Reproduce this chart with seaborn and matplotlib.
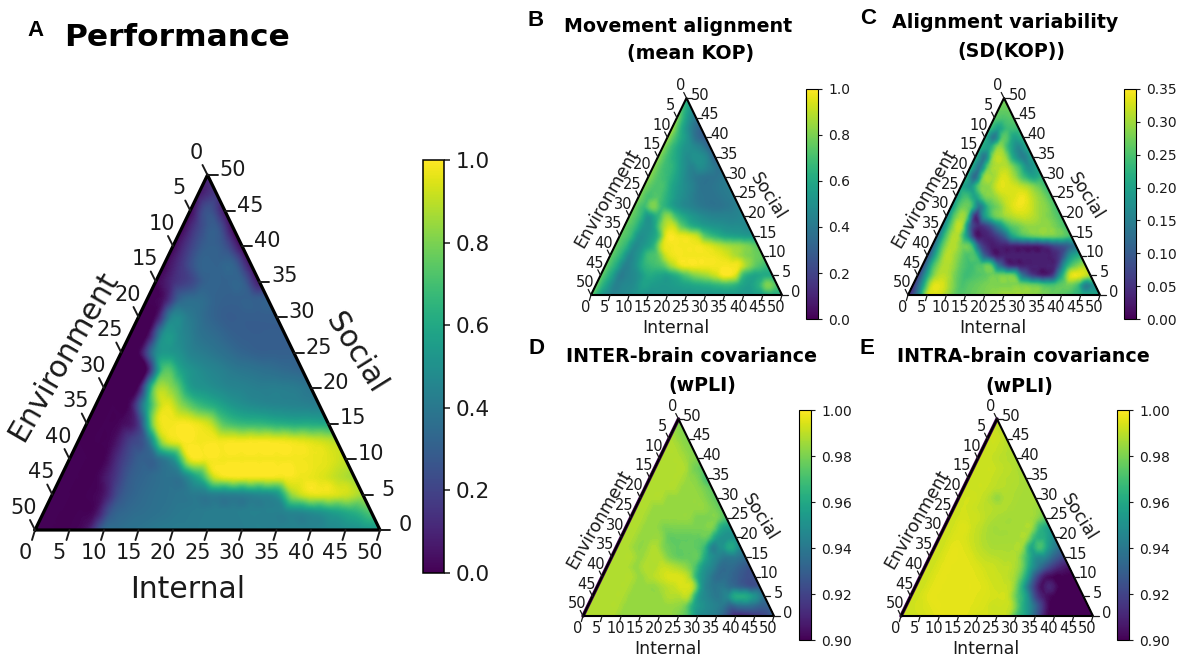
import numpy as np
import matplotlib
matplotlib.use("Agg")
import matplotlib.pyplot as plt
import matplotlib.tri as mtri
from matplotlib.cm import ScalarMappable
from matplotlib.colors import Normalize
import seaborn as sns

sns.set_style("ticks", {"text.color": "0.1", "xtick.color": "0.1", "ytick.color": "0.1",
                        "axes.edgecolor": "black", "font.family": ["DejaVu Sans"]})

W, H = 1181, 661
STEP = 2.5
tick_values = list(range(0, 51, 5))

# values: rows go from social=0 upward, each row from internal=0 rightward
performance = [
    [0, 0, 0, .05, .32, .36, .38, .40, .41, .41, .42, .42, .42, .43, .43, .44, .44, .46, .48, .50, .52],
    [0, 0, 0, .03, .28, .34, .36, .38, .40, .41, .42, .42, .43, .43, .44, .46, .50, .56, .62, .72],
    [0, 0, 0, .05, .26, .33, .36, .38, .40, .41, .42, .43, .46, .50, .85, .95, .95, .92, .86],
    [0, 0, 0, .12, .28, .33, .37, .40, .60, .93, .98, .98, .98, .98, .97, .95, .90, .85],
    [0, 0, 0, .16, .29, .33, .48, .95, .98, .98, .98, .98, .98, .98, .97, .95, .90],
    [0, 0, .02, .18, .32, .88, .98, .98, .98, .98, .98, .98, .97, .95, .92, .88],
    [0, 0, .02, .15, .88, .98, .98, .92, .72, .66, .65, .62, .60, .60, .58],
    [0, 0, .02, .55, .95, .82, .68, .60, .52, .48, .46, .45, .44, .42],
    [0, 0, .02, .80, .80, .55, .50, .46, .44, .42, .42, .41, .38],
    [0, 0, .02, .72, .56, .48, .44, .40, .38, .36, .34, .32],
    [0, 0, .45, .52, .44, .40, .36, .32, .30, .30, .30],
    [0, 0, .50, .46, .38, .34, .30, .29, .29, .29],
    [0, .02, .45, .40, .33, .29, .29, .29, .29],
    [0, .05, .32, .35, .31, .30, .30, .30],
    [0, .12, .20, .31, .31, .30, .05],
    [0, .15, .30, .31, .30, .03],
    [0, .18, .30, .25, 0],
    [0, .20, .28, 0],
    [0, .25, .05],
    [.05, .15],
    [.10],
]

movement = [
    [.75, .55, .45, .46, .48, .52, .50, .52, .52, .52, .52, .52, .52, .52, .52, .53, .53, .54, .56, .60, .62],
    [.76, .58, .44, .46, .48, .56, .54, .53, .54, .56, .58, .60, .62, .65, .66, .60, .55, .62, .80, .70],
    [.76, .60, .42, .45, .50, .60, .58, .56, .62, .72, .80, .84, .90, .98, .94, .65, .58, .60, .60],
    [.76, .62, .44, .48, .62, .68, .72, .86, .96, .98, .98, .98, .98, .98, .96, .82, .72, .66],
    [.76, .64, .46, .52, .68, .74, .93, .98, .98, .98, .98, .97, .94, .88, .82, .78, .75],
    [.76, .66, .48, .52, .62, .92, .98, .98, .98, .97, .93, .88, .84, .82, .78, .72],
    [.76, .68, .50, .52, .64, .97, .97, .95, .90, .72, .64, .58, .56, .54, .52],
    [.76, .68, .52, .54, .82, .92, .74, .62, .56, .52, .50, .48, .48, .46],
    [.78, .68, .52, .64, .82, .66, .56, .50, .46, .44, .44, .44, .46],
    [.78, .68, .80, .66, .56, .48, .44, .40, .38, .38, .40, .44],
    [.80, .70, .72, .62, .52, .46, .40, .38, .38, .40, .42],
    [.80, .72, .70, .58, .50, .44, .38, .38, .40, .42],
    [.82, .72, .66, .56, .46, .40, .38, .38, .40],
    [.82, .70, .64, .52, .44, .48, .42, .36],
    [.82, .68, .58, .48, .50, .46, .30],
    [.82, .66, .54, .48, .42, .30],
    [.84, .66, .52, .36, .28],
    [.85, .60, .42, .30],
    [.80, .55, .38],
    [.70, .50],
    [.62],
]

variability = [
    [.02, .14, .31, .33, .30, .26, .26, .27, .28, .29, .30, .30, .30, .29, .28, .27, .26, .24, .22, .21, .20],
    [.03, .18, .32, .33, .29, .25, .26, .27, .28, .28, .28, .28, .27, .26, .24, .25, .27, .25, .15, .18],
    [.04, .20, .30, .31, .27, .24, .25, .26, .27, .27, .26, .12, .06, .03, .05, .20, .33, .33, .30],
    [.05, .22, .30, .30, .26, .24, .25, .26, .12, .04, .03, .03, .03, .03, .05, .20, .27, .30],
    [.06, .22, .31, .29, .25, .24, .10, .03, .03, .03, .03, .03, .03, .03, .07, .18, .22],
    [.08, .24, .31, .28, .25, .08, .03, .03, .03, .03, .03, .03, .05, .08, .10, .14],
    [.10, .25, .31, .20, .03, .03, .05, .10, .20, .24, .26, .27, .27, .26, .24],
    [.12, .26, .31, .10, .04, .08, .16, .24, .27, .29, .29, .29, .27, .24],
    [.14, .27, .28, .04, .18, .26, .29, .31, .32, .31, .29, .27, .24],
    [.16, .26, .25, .14, .24, .28, .32, .34, .33, .30, .28, .24],
    [.18, .24, .20, .27, .29, .32, .33, .34, .31, .28, .24],
    [.20, .18, .27, .29, .33, .33, .32, .30, .27, .23],
    [.22, .12, .29, .30, .33, .30, .24, .20, .22],
    [.22, .14, .28, .31, .30, .24, .17, .20],
    [.22, .14, .30, .30, .20, .15, .20],
    [.22, .20, .29, .22, .16, .21],
    [.22, .14, .26, .20, .22],
    [.24, .20, .24, .24],
    [.26, .25, .26],
    [.27, .27],
    [.27],
]

inter_brain = [
    [.988, .988, .988, .988, .984, .984, .984, .984, .984, .984, .98, .97, .95, .945, .94, .925, .91, .91, .915, .92, .93],
    [.988, .988, .988, .988, .984, .984, .984, .984, .984, .984, .98, .96, .95, .945, .94, .93, .935, .935, .93, .93],
    [.988, .988, .988, .988, .984, .984, .984, .984, .988, .988, .988, .955, .945, .94, .945, .96, .96, .95, .935],
    [.988, .988, .988, .988, .984, .984, .984, .988, .991, .994, .988, .95, .94, .94, .935, .93, .925, .925],
    [.988, .988, .988, .988, .984, .988, .991, .994, .994, .988, .96, .945, .935, .935, .93, .925, .925],
    [.988, .988, .988, .984, .988, .988, .991, .988, .984, .975, .955, .945, .935, .935, .93, .925],
    [.988, .988, .988, .984, .988, .988, .98, .976, .976, .975, .955, .945, .94, .94, .935],
    [.988, .988, .984, .984, .988, .98, .976, .976, .976, .97, .945, .95, .96, .945],
    [.988, .988, .984, .984, .984, .976, .976, .976, .976, .975, .955, .95, .95],
    [.988, .988, .984, .984, .98, .98, .98, .98, .98, .98, .96, .955],
    [.988, .988, .984, .984, .984, .984, .984, .98, .98, .98, .97],
    [.988, .988, .984, .984, .984, .984, .984, .984, .98, .974],
    [.988, .988, .988, .984, .984, .984, .984, .98, .974],
    [.988, .988, .988, .988, .984, .984, .98, .974],
    [.988, .988, .988, .988, .984, .98, .968],
    [.988, .988, .988, .988, .98, .974],
    [.988, .988, .988, .984, .98],
    [.988, .988, .984, .98],
    [.988, .984, .98],
    [.984, .98],
    [.98],
]

intra_brain = [
    [.992, .992, .993, .994, .996, .996, .996, .995, .993, .993, .992, .99, .97, .955, .93, .905, .90, .90, .90, .90, .90],
    [.992, .993, .994, .996, .996, .996, .996, .995, .994, .992, .992, .988, .965, .945, .92, .90, .90, .90, .90, .90],
    [.992, .993, .996, .996, .996, .996, .996, .995, .994, .993, .992, .975, .955, .92, .905, .90, .90, .90, .90],
    [.992, .993, .996, .996, .996, .996, .996, .995, .993, .992, .988, .965, .93, .905, .91, .90, .90, .90],
    [.992, .993, .996, .996, .996, .996, .995, .993, .992, .99, .983, .96, .925, .905, .90, .90, .90],
    [.992, .993, .996, .996, .996, .995, .993, .992, .99, .989, .98, .955, .935, .92, .91, .905],
    [.992, .993, .996, .996, .995, .992, .99, .989, .988, .987, .97, .95, .945, .93, .92],
    [.992, .993, .996, .995, .992, .989, .987, .987, .987, .986, .96, .97, .95, .935],
    [.992, .993, .995, .993, .99, .987, .986, .986, .986, .986, .965, .96, .945],
    [.992, .993, .995, .992, .989, .986, .986, .986, .986, .986, .965, .955],
    [.992, .993, .993, .992, .989, .987, .986, .986, .986, .984, .975],
    [.992, .993, .992, .99, .989, .988, .987, .986, .986, .984],
    [.992, .993, .992, .989, .984, .988, .987, .986, .986],
    [.992, .992, .992, .99, .989, .988, .987, .986],
    [.992, .992, .992, .99, .989, .988, .986],
    [.992, .992, .992, .99, .989, .986],
    [.992, .992, .99, .989, .987],
    [.992, .992, .99, .988],
    [.992, .992, .989],
    [.992, .99],
    [.99],
]

cmap = sns.color_palette("viridis", as_cmap=True)
fig = plt.figure(figsize=(W / 100, H / 100), dpi=100)


def px_axes(left, top, right, bottom):
    return fig.add_axes([left / W, 1 - bottom / H, (right - left) / W, (bottom - top) / H])


def ternary(rows, box, vmin, vmax, tick_size, label_size, line_w, dark_edge=False):
    left, top, right, bottom = box
    ax = px_axes(*box)
    scale = (right - left) / 345
    to_x = 50 / (right - left)
    to_y = 50 / (bottom - top)

    xs, ys, zs = [], [], []
    for r, row in enumerate(rows):
        for c, val in enumerate(row):
            xs.append(c * STEP + r * STEP / 2)
            ys.append(r * STEP)
            zs.append(val)
    # smooth contour rendering of the read values
    tri = mtri.Triangulation(xs, ys)
    zs = np.array(zs, dtype=float)
    smoother = mtri.CubicTriInterpolator(tri, zs, kind="geom")
    fine_tri, fine_z = mtri.UniformTriRefiner(tri).refine_field(zs, triinterpolator=smoother, subdiv=3)
    levels = np.linspace(vmin, vmax, 129)
    ax.tricontourf(fine_tri, fine_z, levels=levels, cmap=cmap, vmin=vmin, vmax=vmax,
                   extend="both", antialiased=False)

    if dark_edge:
        ax.plot([0, 25], [0, 50], color=cmap(0.0), lw=line_w * 1.7, clip_on=False)
    sns.lineplot(x=[0, 50, 25, 0], y=[0, 0, 50, 0], sort=False, estimator=None, color="black",
                 linewidth=line_w, ax=ax, clip_on=False, legend=False)

    tick_len = 10 * scale
    for t in tick_values:
        # bottom axis: internal
        ax.plot([t, t - 3 * scale * to_x], [0, -tick_len * to_y], color="0.1", lw=line_w * 0.6, clip_on=False)
        ax.annotate(str(t), (t, 0), xytext=(-10 * scale * 0.72, -23 * scale * 0.72), textcoords="offset points",
                    ha="center", va="center", fontsize=tick_size, annotation_clip=False)
        # right axis: social
        rx, ry = 50 - t / 2, t
        ax.plot([rx, rx + tick_len * to_x], [ry, ry], color="0.1", lw=line_w * 0.6, clip_on=False)
        ax.annotate(str(t), (rx, ry), xytext=(25 * scale * 0.72, 5 * scale * 0.72), textcoords="offset points",
                    ha="center", va="center", fontsize=tick_size, annotation_clip=False)
        # left axis: environment
        lx, ly = 25 - t / 2, 50 - t
        ax.plot([lx, lx - 5 * scale * to_x], [ly, ly + tick_len * to_y], color="0.1", lw=line_w * 0.6, clip_on=False)
        ax.annotate(str(t), (lx, ly), xytext=(-11 * scale * 0.72, 22 * scale * 0.72), textcoords="offset points",
                    ha="center", va="center", fontsize=tick_size, annotation_clip=False)

    ax.text(22.1, -8.4, "Internal", ha="center", va="center", fontsize=label_size)
    ax.text(4.1, 24.5, "Environment", rotation=60, ha="center", va="center", fontsize=label_size)
    ax.text(46.4, 25, "Social", rotation=-58, ha="center", va="center", fontsize=label_size)

    ax.set_xlim(0, 50)
    ax.set_ylim(0, 50)
    ax.axis("off")
    return ax


def colorbar(box, vmin, vmax, ticks, fmt, size, tick_w):
    cax = px_axes(*box)
    sm = ScalarMappable(norm=Normalize(vmin, vmax), cmap=cmap)
    cb = fig.colorbar(sm, cax=cax, ticks=ticks, format=fmt)
    cb.ax.tick_params(labelsize=size, width=tick_w, length=tick_w * 4, pad=4)
    cb.outline.set_linewidth(tick_w)


# A
ternary(performance, (35, 175, 380, 530), 0, 1, 15, 21.5, 2.3)
colorbar((423, 160, 444, 573), 0, 1, [0, .2, .4, .6, .8, 1], "%.1f", 15.5, 1.1)
# B
ternary(movement, (591, 98, 782, 295), 0, 1, 10.5, 12.5, 1.5)
colorbar((806, 89, 818, 319), 0, 1, [0, .2, .4, .6, .8, 1], "%.1f", 10, 0.8)
# C
ternary(variability, (908, 98, 1100, 295), 0, .35, 10.5, 12.5, 1.5)
colorbar((1124, 89, 1136, 319), 0, .35, [0, .05, .1, .15, .2, .25, .3, .35], "%.2f", 10, 0.8)
# D
ternary(inter_brain, (583, 419, 774, 616), .9, 1, 10.5, 12.5, 1.5, dark_edge=True)
colorbar((799, 410, 811, 640), .9, 1, [.9, .92, .94, .96, .98, 1], "%.2f", 10, 0.8)
# E
ternary(intra_brain, (901, 419, 1093, 616), .9, 1, 10.5, 12.5, 1.5, dark_edge=True)
colorbar((1117, 410, 1129, 640), .9, 1, [.9, .92, .94, .96, .98, 1], "%.2f", 10, 0.8)


def fig_text(x, y, s, **kw):
    fig.text(x / W, 1 - y / H, s, ha="center", va="center", color="black", **kw)


for x, y, s in [(36, 31, "A"), (536, 20, "B"), (868, 19, "C"), (536, 348, "D"), (867, 348, "E")]:
    fig_text(x, y, s, fontsize=16, fontweight="bold", family="Liberation Sans")

fig_text(177, 38, "Performance", fontsize=22.5, fontweight="bold")
for x, y, s in [(678, 26, "Movement alignment"), (691, 54, "(mean KOP)"),
                (1005, 23, "Alignment variability"), (1011, 52, "(SD(KOP))"),
                (691, 356, "INTER-brain covariance"), (702, 385, "(wPLI)"),
                (1023, 356, "INTRA-brain covariance"), (1019, 387, "(wPLI)")]:
    fig_text(x, y, s, fontsize=13.7, fontweight="bold")

fig.savefig("out.png", dpi=100)
